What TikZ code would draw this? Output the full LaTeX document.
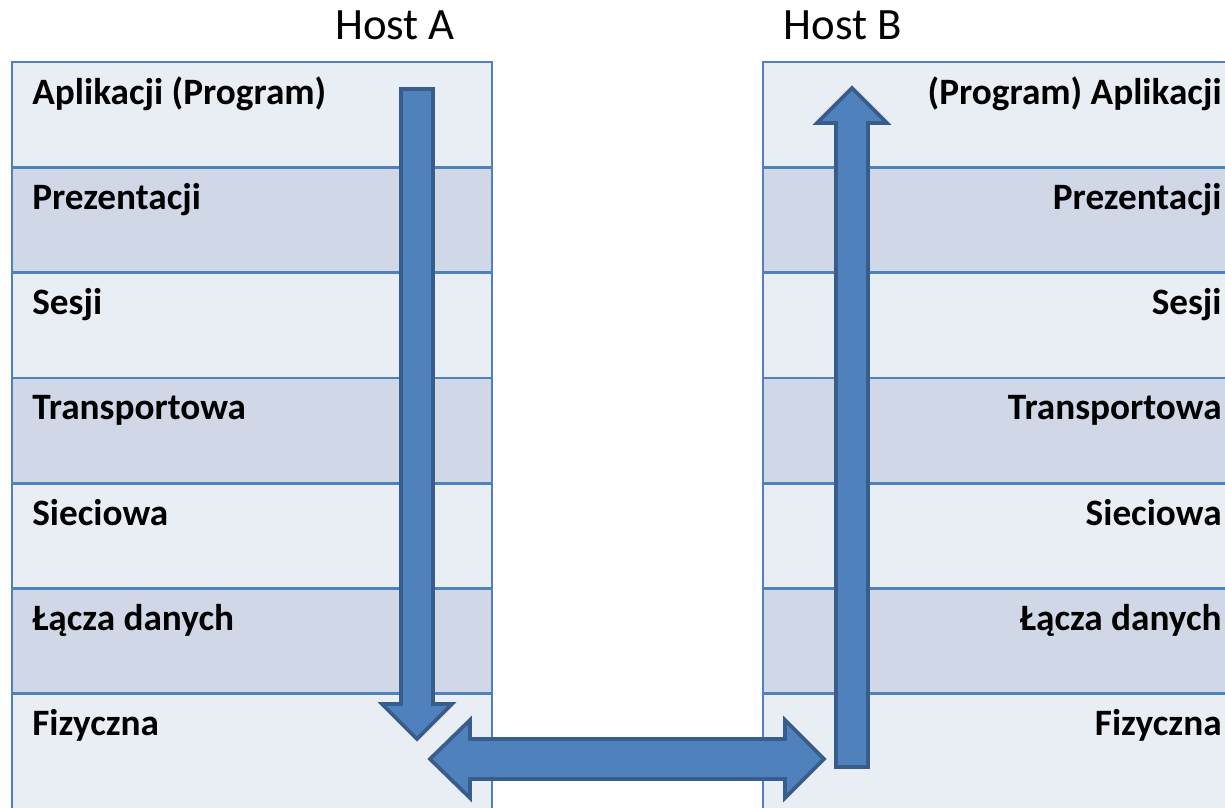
\documentclass[tikz,border=0pt]{standalone}
\usepackage{fontspec}
\setmainfont{Carlito}
\definecolor{osiline}{HTML}{4F81BD}
\definecolor{osiedge}{HTML}{385D8A}
\definecolor{rowlight}{HTML}{E9EDF4}
\definecolor{rowdark}{HTML}{D0D8E8}
\tikzset{
  layer/.style={font=\fontsize{21.2}{25}\selectfont\bfseries, inner sep=0pt},
  host/.style={font=\fontsize{25.5}{30}\selectfont, inner sep=0pt},
  rowbox/.style={draw=osiline, line width=1.5pt},
  blockarrow/.style={fill=osiline, draw=osiedge, line width=2.1pt, line join=miter}
}
\begin{document}
\begin{tikzpicture}[x=0.02cm,y=-0.02cm]
\clip (0,0) rectangle (1225,808);
% the seven layers of both hosts
\foreach \lname/\rname [count=\i] in {{Aplikacji (Program)}/{(Program) Aplikacji},Prezentacji/Prezentacji,Sesji/Sesji,Transportowa/Transportowa,Sieciowa/Sieciowa,{Łącza danych}/{Łącza danych},Fizyczna/Fizyczna}{
  \pgfmathsetmacro\rowtop{62+(\i-1)*105.3}
  \pgfmathsetmacro\rowbot{\i==7 ? 840 : \rowtop+105.3}
  \ifodd\i \def\rowfill{rowlight}\else \def\rowfill{rowdark}\fi
  \filldraw[rowbox, fill=\rowfill] (12,\rowtop) rectangle (492,\rowbot);
  \filldraw[rowbox, fill=\rowfill] (763,\rowtop) rectangle (1260,\rowbot);
  \node[layer, anchor=base west] (left\i) at (32,\rowtop+42) {\lname};
  \node[layer, anchor=base east] (right\i) at (1222,\rowtop+42) {\rname};
}
\node[host, anchor=base] (hostA) at (395,39) {Host A};
\node[host, anchor=base] (hostB) at (843,39) {Host B};
% down through A, across the wire, up through B
\draw[blockarrow] (401,89) -- (433,89) -- (433,704) -- (452,704) -- (417,739) -- (382,704) -- (401,704) -- cycle;
\draw[blockarrow] (836,767) -- (868,767) -- (868,123) -- (887,123) -- (852,88) -- (817,123) -- (836,123) -- cycle;
\draw[blockarrow] (430,759) -- (470,720) -- (470,739) -- (785,739) -- (785,720) -- (824,759) -- (785,798) -- (785,779) -- (470,779) -- (470,798) -- cycle;
\end{tikzpicture}
\end{document}
